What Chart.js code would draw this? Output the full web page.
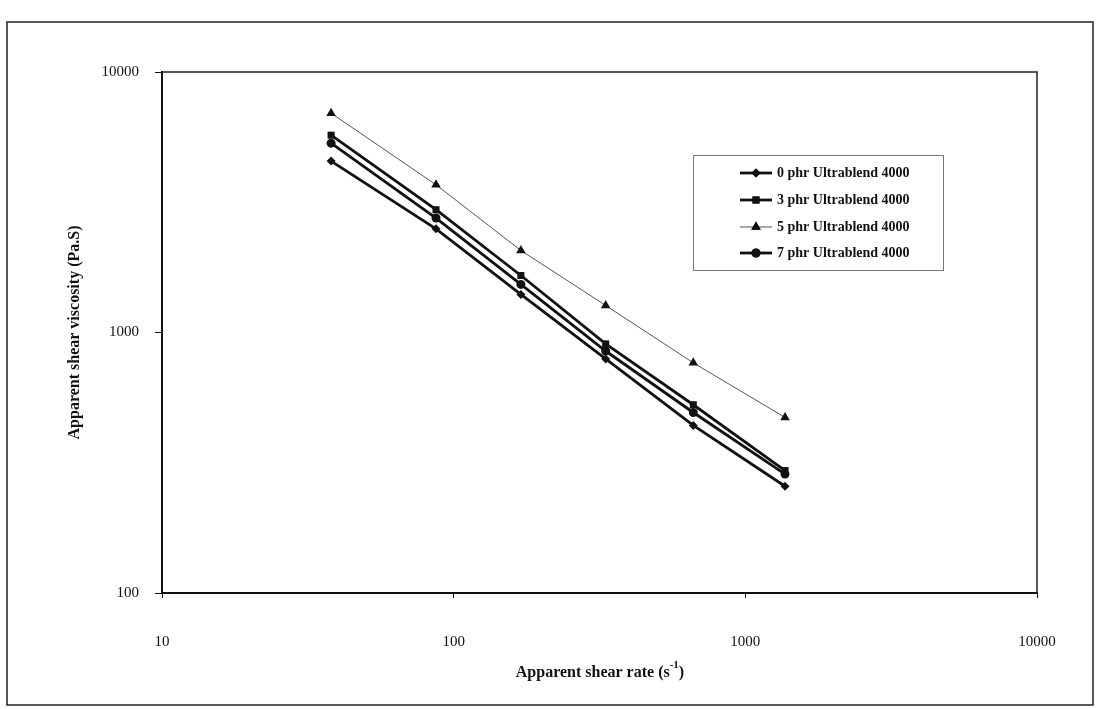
<!DOCTYPE html>
<html lang="en">
<head>
  <meta charset="UTF-8" />
  <title>Apparent shear viscosity vs shear rate</title>
  <script src="https://cdn.jsdelivr.net/npm/chart.js"></script>
  <style>
    * { box-sizing: border-box; margin: 0; padding: 0; }
    body { background: #fff; width: 1105px; height: 709px; overflow: hidden; }
    #chart-container { position: relative; width: 1105px; height: 709px; }
  </style>
</head>
<body>
  <div id="chart-container">
    <canvas id="viscChart"></canvas>
  </div>

  <script>
    // apparent shear rate (1/s)
    const shearRate = [38, 87, 170, 332, 663, 1368];
    // apparent shear viscosity (Pa.s)
    const visc0phr = [4550, 2500, 1400, 792, 440, 257];
    const visc3phr = [5720, 2960, 1655, 904, 528, 295];
    const visc5phr = [6950, 3690, 2065, 1270, 765, 472];
    const visc7phr = [5330, 2750, 1530, 849, 493, 286];
    const seriesNames = [
      '0 phr Ultrablend 4000',
      '3 phr Ultrablend 4000',
      '5 phr Ultrablend 4000',
      '7 phr Ultrablend 4000'
    ];
    const xTicks = [10, 100, 1000, 10000];
    const yTicks = [100, 1000, 10000];

    const SERIF = "'Liberation Serif', 'Times New Roman', serif";

    function toPoints(vals) {
      return vals.map((v, i) => ({ x: shearRate[i], y: v }));
    }

    const datasets = [
      { label: seriesNames[0], data: toPoints(visc0phr), pointStyle: 'rectRot', pointRadius: 4.5, borderWidth: 2.8, borderColor: '#111', backgroundColor: '#111' },
      { label: seriesNames[1], data: toPoints(visc3phr), pointStyle: 'rect', pointRadius: 5, borderWidth: 2.8, borderColor: '#111', backgroundColor: '#111' },
      { label: seriesNames[2], data: toPoints(visc5phr), pointStyle: 'triangle', pointRadius: 5.5, borderWidth: 1, borderColor: '#555', backgroundColor: '#111' },
      { label: seriesNames[3], data: toPoints(visc7phr), pointStyle: 'circle', pointRadius: 4.5, borderWidth: 2.8, borderColor: '#111', backgroundColor: '#111' }
    ];
    datasets.forEach(d => {
      d.pointBorderColor = '#111';
      d.pointBorderWidth = 0;
      d.pointBackgroundColor = '#111';
      d.tension = 0;
      d.fill = false;
      d.showLine = true;
    });

    // frame, plot box, legend box and x title with superscript
    const decorPlugin = {
      id: 'decor',
      afterDraw(chart) {
        const ctx = chart.ctx;
        const a = chart.chartArea;
        ctx.save();
        // outer frame
        ctx.strokeStyle = '#222';
        ctx.lineWidth = 1.5;
        ctx.strokeRect(7, 22, 1086, 683);
        // plot box top/right
        ctx.lineWidth = 1.5;
        ctx.beginPath();
        ctx.moveTo(a.left, a.top);
        ctx.lineTo(a.right, a.top);
        ctx.lineTo(a.right, a.bottom);
        ctx.stroke();

        // legend
        ctx.strokeStyle = '#777';
        ctx.lineWidth = 1;
        ctx.strokeRect(693.5, 155.5, 250, 115);
        const rows = [173, 200, 227, 253];
        chart.data.datasets.forEach((ds, i) => {
          const y = rows[i];
          ctx.strokeStyle = ds.borderColor;
          ctx.lineWidth = ds.borderWidth;
          ctx.beginPath();
          ctx.moveTo(740, y);
          ctx.lineTo(772, y);
          ctx.stroke();
          Chart.helpers.drawPoint(ctx, {
            pointStyle: ds.pointStyle, radius: ds.pointRadius, borderWidth: 0, rotation: 0
          }, 756, y);
          ctx.fillStyle = '#111';
          ctx.fill();
          ctx.font = 'bold 14px ' + SERIF;
          ctx.textBaseline = 'middle';
          ctx.textAlign = 'left';
          ctx.fillText(ds.label, 777, y);
        });

        // x axis title
        ctx.fillStyle = '#111';
        ctx.textBaseline = 'alphabetic';
        ctx.font = 'bold 16px ' + SERIF;
        const main = 'Apparent shear rate (s';
        const sup = '-1';
        const close = ')';
        const wMain = ctx.measureText(main).width;
        const wClose = ctx.measureText(close).width;
        ctx.font = 'bold 11px ' + SERIF;
        const wSup = ctx.measureText(sup).width;
        const total = wMain + wSup + wClose;
        let x = 600 - total / 2;
        const yBase = 677;
        ctx.font = 'bold 16px ' + SERIF;
        ctx.textAlign = 'left';
        ctx.fillText(main, x, yBase);
        x += wMain;
        ctx.font = 'bold 11px ' + SERIF;
        ctx.fillText(sup, x, yBase - 9);
        x += wSup;
        ctx.font = 'bold 16px ' + SERIF;
        ctx.fillText(close, x, yBase);
        ctx.restore();
      }
    };

    const ctx = document.getElementById('viscChart').getContext('2d');
    new Chart(ctx, {
      type: 'line',
      data: { datasets: datasets },
      plugins: [decorPlugin],
      options: {
        responsive: true,
        maintainAspectRatio: false,
        animation: false,
        layout: { padding: { left: 0, top: 72, right: 68, bottom: 0 } },
        plugins: {
          legend: { display: false },
          tooltip: { enabled: false }
        },
        scales: {
          x: {
            type: 'logarithmic',
            min: 10,
            max: 10000,
            afterFit(scale) { scale.height = 709 - 593; },
            afterBuildTicks(scale) { scale.ticks = xTicks.map(v => ({ value: v })); },
            border: { display: true, color: '#111', width: 2 },
            grid: { display: true, drawOnChartArea: false, drawTicks: true, tickLength: 5, color: '#111' },
            ticks: {
              autoSkip: false,
              maxRotation: 0,
              padding: 35,
              color: '#111',
              font: { family: SERIF, size: 15 },
              callback: v => String(v)
            }
          },
          y: {
            type: 'logarithmic',
            min: 100,
            max: 10000,
            afterFit(scale) { scale.width = 162; },
            afterBuildTicks(scale) { scale.ticks = yTicks.map(v => ({ value: v })); },
            border: { display: true, color: '#111', width: 2 },
            grid: { display: true, drawOnChartArea: false, drawTicks: true, tickLength: 7, color: '#111' },
            ticks: {
              autoSkip: false,
              padding: 16,
              color: '#111',
              font: { family: SERIF, size: 15 },
              callback: v => String(v)
            },
            title: {
              display: true,
              text: 'Apparent shear viscosity (Pa.S)',
              color: '#111',
              font: { family: SERIF, size: 16, weight: 'bold' },
              padding: { top: 65, bottom: 0 }
            }
          }
        }
      }
    });
  </script>
</body>
</html>
